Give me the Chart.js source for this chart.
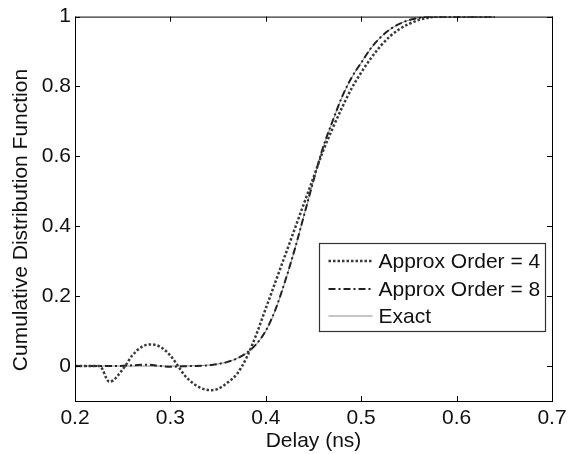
<!DOCTYPE html>
<html>
<head>
<meta charset="utf-8">
<script src="https://cdn.jsdelivr.net/npm/chart.js@4/dist/chart.umd.min.js"></script>
<style>
  html, body { margin: 0; padding: 0; background: #fff; }
</style>
</head>
<body>
<canvas id="myChart" width="575" height="454"></canvas>
<script>
// tick values
var xTicks = [0.2, 0.3, 0.4, 0.5, 0.6, 0.7];
var yTicks = [0, 0.2, 0.4, 0.6, 0.8, 1];

// Approx Order = 4 (dotted)
var delayOrder4 = [0.20, 0.225, 0.229, 0.232, 0.236, 0.24, 0.245, 0.2525, 0.26, 0.27, 0.28, 0.29, 0.30, 0.308,
  0.315, 0.325, 0.335, 0.343, 0.35, 0.36, 0.37, 0.38, 0.39, 0.40, 0.41, 0.42, 0.43, 0.44, 0.45, 0.46, 0.47,
  0.48, 0.49, 0.50, 0.51, 0.52, 0.53, 0.54, 0.55, 0.56, 0.57, 0.58, 0.60, 0.64];
var cdfOrder4 = [0, 0, -0.01, -0.03, -0.045, -0.041, -0.027, 0, 0.03, 0.055, 0.062, 0.054, 0.03, 0,
  -0.027, -0.052, -0.066, -0.069, -0.065, -0.047, -0.022, 0.025, 0.09, 0.165, 0.24, 0.315, 0.39, 0.465, 0.54, 0.615, 0.68,
  0.74, 0.795, 0.84, 0.88, 0.915, 0.943, 0.964, 0.979, 0.99, 0.997, 1.0, 1.0, 1.0];

// Approx Order = 8 (dash-dot)
var delayOrder8 = [0.20, 0.24, 0.26, 0.275, 0.29, 0.30, 0.32, 0.34, 0.35, 0.36, 0.37, 0.38, 0.39, 0.40, 0.41,
  0.42, 0.43, 0.44, 0.45, 0.46, 0.47, 0.48, 0.49, 0.50, 0.51, 0.52, 0.53, 0.54, 0.55, 0.56, 0.57, 0.60, 0.64];
var cdfOrder8 = [0, 0, 0.002, 0.004, 0.0, -0.002, 0.0, 0.002, 0.006, 0.012, 0.022, 0.038, 0.063, 0.101, 0.161,
  0.241, 0.331, 0.431, 0.531, 0.626, 0.701, 0.771, 0.826, 0.868, 0.909, 0.94, 0.963, 0.979, 0.99, 0.996, 1.0, 1.0, 1.0];

// Exact (thin solid)
var delayExact = [0.20, 0.24, 0.27, 0.30, 0.33, 0.35, 0.36, 0.37, 0.38, 0.39, 0.40, 0.41, 0.42, 0.43, 0.44,
  0.45, 0.46, 0.47, 0.48, 0.49, 0.50, 0.51, 0.52, 0.53, 0.54, 0.55, 0.56, 0.57, 0.60, 0.64];
var cdfExact = [0, 0, 0, 0, 0.001, 0.006, 0.012, 0.022, 0.037, 0.062, 0.10, 0.16, 0.24, 0.33, 0.43,
  0.53, 0.625, 0.70, 0.77, 0.825, 0.868, 0.908, 0.94, 0.963, 0.979, 0.99, 0.996, 1.0, 1.0, 1.0];

var FONT = { family: "'Liberation Sans', Arial, Helvetica, sans-serif", size: 21 };
var INK = "#111";

function toPoints(xs, ys) {
  return xs.map(function (x, i) { return { x: x, y: ys[i] }; });
}

function tickLabel(v) {
  return String(Math.round(v * 10) / 10);
}

// box with inward ticks, legend and y title, matlab-like
var matlabAxes = {
  id: "matlabAxes",
  afterDatasetsDraw: function (chart) {
    var ctx = chart.ctx;
    var a = chart.chartArea;
    var sx = chart.scales.x, sy = chart.scales.y;
    var tl = 5;

    ctx.save();
    ctx.strokeStyle = "#000";
    ctx.lineWidth = 1;
    ctx.strokeRect(a.left + 0.5, a.top + 0.5, a.right - a.left, a.bottom - a.top);
    ctx.beginPath();
    xTicks.forEach(function (v) {
      var px = Math.round(sx.getPixelForValue(v)) + 0.5;
      ctx.moveTo(px, a.bottom); ctx.lineTo(px, a.bottom - tl);
      ctx.moveTo(px, a.top); ctx.lineTo(px, a.top + tl);
    });
    yTicks.forEach(function (v) {
      var py = Math.round(sy.getPixelForValue(v)) + 0.5;
      ctx.moveTo(a.left, py); ctx.lineTo(a.left + tl, py);
      ctx.moveTo(a.right, py); ctx.lineTo(a.right - tl, py);
    });
    ctx.stroke();

    // legend
    var lx = 319.5, ly = 243.5, lw = 226, lh = 88;
    ctx.fillStyle = "#fff";
    ctx.fillRect(lx, ly, lw, lh);
    ctx.strokeStyle = "#333";
    ctx.lineWidth = 1.2;
    ctx.strokeRect(lx, ly, lw, lh);
    var rows = [17.5, 45.5, 72.5];
    ctx.font = FONT.size + "px " + FONT.family;
    ctx.textBaseline = "middle";
    ctx.textAlign = "left";
    chart.data.datasets.forEach(function (ds, i) {
      var y = ly + rows[i];
      ctx.beginPath();
      ctx.setLineDash(ds.borderDash || []);
      ctx.strokeStyle = ds.borderColor;
      ctx.lineWidth = ds.borderWidth;
      ctx.moveTo(lx + 9, y);
      ctx.lineTo(lx + 53, y);
      ctx.stroke();
      ctx.setLineDash([]);
      ctx.fillStyle = INK;
      ctx.fillText(ds.label, lx + 59, y + 1);
    });

    // y axis title
    ctx.translate(21, 220);
    ctx.rotate(-Math.PI / 2);
    ctx.textAlign = "center";
    ctx.fillText("Cumulative Distribution Function", 0, 0);
    ctx.restore();
  }
};

new Chart(document.getElementById("myChart"), {
  type: "line",
  data: {
    datasets: [
      {
        label: "Approx Order = 4",
        data: toPoints(delayOrder4, cdfOrder4),
        borderColor: "#3a3a3a",
        borderWidth: 2.5,
        borderDash: [2.5, 2],
        pointRadius: 0,
        cubicInterpolationMode: "monotone"
      },
      {
        label: "Approx Order = 8",
        data: toPoints(delayOrder8, cdfOrder8),
        borderColor: "#222",
        borderWidth: 2,
        borderDash: [7, 3, 2, 3],
        pointRadius: 0,
        cubicInterpolationMode: "monotone"
      },
      {
        label: "Exact",
        data: toPoints(delayExact, cdfExact),
        borderColor: "#8a8a8a",
        borderWidth: 1,
        pointRadius: 0,
        cubicInterpolationMode: "monotone"
      }
    ]
  },
  options: {
    responsive: false,
    animation: false,
    layout: { padding: { top: 15, right: 23, left: 0, bottom: 0 } },
    plugins: { legend: { display: false }, tooltip: { enabled: false } },
    scales: {
      x: {
        type: "linear",
        min: 0.2,
        max: 0.7,
        afterBuildTicks: function (axis) {
          axis.ticks = xTicks.map(function (v) { return { value: v }; });
        },
        afterFit: function (s) { s.height = 53; },
        grid: { display: false, drawTicks: false, tickLength: 0 },
        border: { display: false },
        ticks: { font: FONT, color: INK, padding: 5, maxRotation: 0, autoSkip: false, callback: tickLabel },
        title: { display: true, text: "Delay (ns)", font: FONT, color: INK, padding: { top: 0, bottom: 0 } }
      },
      y: {
        type: "linear",
        min: -0.1,
        max: 1,
        afterBuildTicks: function (axis) {
          axis.ticks = yTicks.map(function (v) { return { value: v }; });
        },
        afterFit: function (s) { s.width = 75; },
        grid: { display: false, drawTicks: false, tickLength: 0 },
        border: { display: false },
        ticks: { font: FONT, color: INK, padding: 4, autoSkip: false, callback: tickLabel }
      }
    }
  },
  plugins: [matlabAxes]
});
</script>
</body>
</html>
